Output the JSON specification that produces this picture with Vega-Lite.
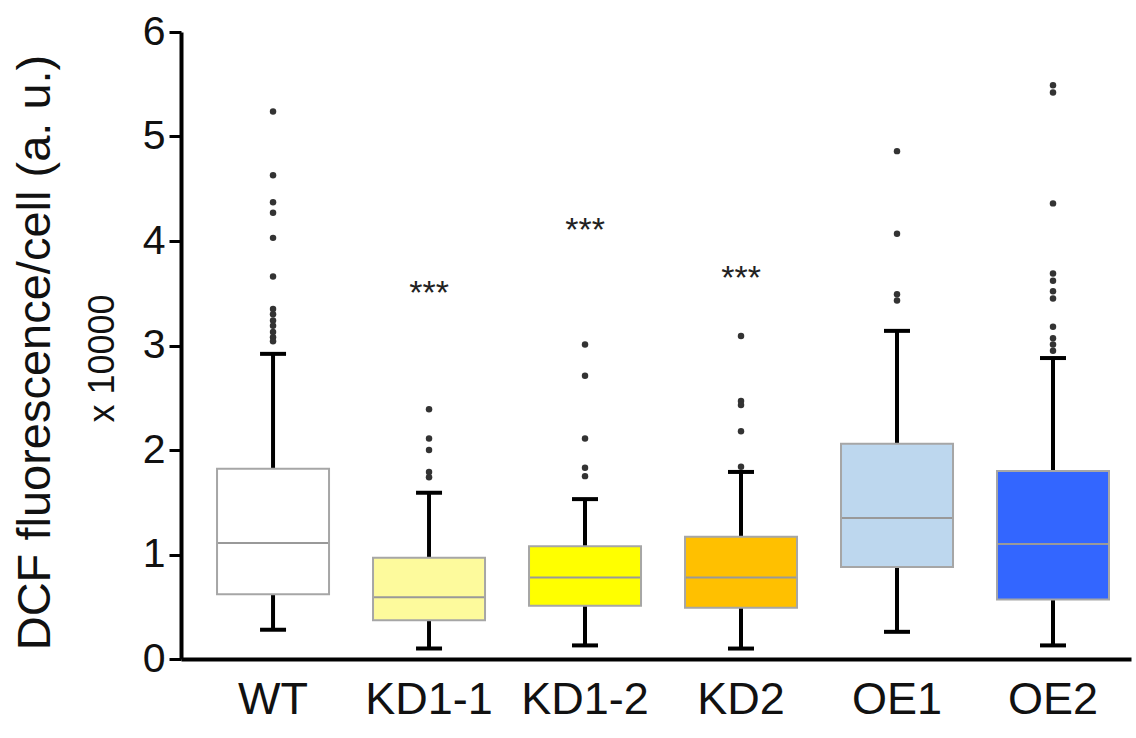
{
  "$schema": "https://vega.github.io/schema/vega-lite/v6.json",
  "autosize": {"type": "none"},
  "padding": {"left": 181, "top": 32, "right": 5, "bottom": 79},
  "width": 950,
  "height": 627,
  "background": "white",
  "config": {
    "view": {"stroke": null},
    "font": "Liberation Sans",
    "axis": {"grid": false, "labelFont": "Liberation Sans", "titleFont": "Liberation Sans", "labelColor": "#111", "titleColor": "#111", "titleFontWeight": "normal"}
  },
  "datasets": {
    "stats": [
      {"group": "WT", "lower": 0.28, "q1": 0.62, "median": 1.11, "q3": 1.82, "upper": 2.92},
      {"group": "KD1-1", "lower": 0.10, "q1": 0.37, "median": 0.59, "q3": 0.97, "upper": 1.59},
      {"group": "KD1-2", "lower": 0.13, "q1": 0.51, "median": 0.78, "q3": 1.08, "upper": 1.53},
      {"group": "KD2", "lower": 0.10, "q1": 0.49, "median": 0.78, "q3": 1.17, "upper": 1.79},
      {"group": "OE1", "lower": 0.26, "q1": 0.88, "median": 1.35, "q3": 2.06, "upper": 3.14},
      {"group": "OE2", "lower": 0.13, "q1": 0.57, "median": 1.10, "q3": 1.80, "upper": 2.88}
    ],
    "outliers": [
      {"group": "WT", "value": 5.24}, {"group": "WT", "value": 4.63}, {"group": "WT", "value": 4.37},
      {"group": "WT", "value": 4.27}, {"group": "WT", "value": 4.03}, {"group": "WT", "value": 3.66},
      {"group": "WT", "value": 3.35}, {"group": "WT", "value": 3.30}, {"group": "WT", "value": 3.24},
      {"group": "WT", "value": 3.19}, {"group": "WT", "value": 3.13}, {"group": "WT", "value": 3.08},
      {"group": "WT", "value": 3.04},
      {"group": "KD1-1", "value": 2.39}, {"group": "KD1-1", "value": 2.11}, {"group": "KD1-1", "value": 2.00},
      {"group": "KD1-1", "value": 1.79}, {"group": "KD1-1", "value": 1.74},
      {"group": "KD1-2", "value": 3.01}, {"group": "KD1-2", "value": 2.71}, {"group": "KD1-2", "value": 2.11},
      {"group": "KD1-2", "value": 1.83}, {"group": "KD1-2", "value": 1.75},
      {"group": "KD2", "value": 3.09}, {"group": "KD2", "value": 2.47}, {"group": "KD2", "value": 2.43},
      {"group": "KD2", "value": 2.18}, {"group": "KD2", "value": 1.84},
      {"group": "OE1", "value": 4.86}, {"group": "OE1", "value": 4.07}, {"group": "OE1", "value": 3.49},
      {"group": "OE1", "value": 3.43},
      {"group": "OE2", "value": 5.49}, {"group": "OE2", "value": 5.42}, {"group": "OE2", "value": 4.36},
      {"group": "OE2", "value": 3.69}, {"group": "OE2", "value": 3.62}, {"group": "OE2", "value": 3.52},
      {"group": "OE2", "value": 3.45}, {"group": "OE2", "value": 3.18}, {"group": "OE2", "value": 3.07},
      {"group": "OE2", "value": 3.01}, {"group": "OE2", "value": 2.95}
    ],
    "sig": [
      {"group": "KD1-1", "y": 3.55, "label": "***"},
      {"group": "KD1-2", "y": 4.15, "label": "***"},
      {"group": "KD2", "y": 3.69, "label": "***"}
    ]
  },
  "encoding": {
    "x": {
      "field": "group", "type": "nominal", "sort": ["WT", "KD1-1", "KD1-2", "KD2", "OE1", "OE2"],
      "scale": {"paddingInner": 0, "paddingOuter": 0.045, "align": 1},
      "axis": {"title": null, "labelAngle": 0, "labelFontSize": 45, "ticks": false, "domainColor": "#000", "domainWidth": 4, "labelPadding": 18}
    }
  },
  "layer": [
    {
      "layer": [
        {
          "data": {"name": "stats"},
          "mark": {"type": "rule", "color": "#000", "strokeWidth": 4},
          "encoding": {
            "y": {"field": "lower", "type": "quantitative", "scale": {"domain": [0, 6], "nice": false},
              "axis": {"values": [0, 1, 2, 3, 4, 5, 6], "format": "d", "labelFontSize": 41, "tickSize": 12, "tickWidth": 3, "tickColor": "#000", "domainColor": "#000", "domainWidth": 4, "labelPadding": 4,
                "title": "DCF fluorescence/cell (a. u.)", "titleFontSize": 47, "titleX": -122, "titleY": 320}},
            "y2": {"field": "q1"}
          }
        },
        {
          "data": {"name": "stats"},
          "mark": {"type": "rule", "color": "#000", "strokeWidth": 4},
          "encoding": {"y": {"field": "q3", "type": "quantitative"}, "y2": {"field": "upper"}}
        },
        {
          "data": {"name": "stats"},
          "mark": {"type": "bar", "size": 112, "stroke": "#a6a6a6", "strokeWidth": 2},
          "encoding": {
            "y": {"field": "q1", "type": "quantitative"}, "y2": {"field": "q3"},
            "fill": {"field": "group", "type": "nominal", "legend": null,
              "scale": {"domain": ["WT", "KD1-1", "KD1-2", "KD2", "OE1", "OE2"], "range": ["#ffffff", "#fdfa9c", "#ffff00", "#ffc000", "#bdd7ee", "#3366ff"]}}
          }
        },
        {
          "data": {"name": "stats"},
          "mark": {"type": "tick", "size": 110, "thickness": 2, "color": "#999999", "opacity": 1},
          "encoding": {"y": {"field": "median", "type": "quantitative"}}
        },
        {
          "data": {"name": "stats"},
          "mark": {"type": "tick", "size": 26, "thickness": 4, "color": "#000", "opacity": 1},
          "encoding": {"y": {"field": "lower", "type": "quantitative"}}
        },
        {
          "data": {"name": "stats"},
          "mark": {"type": "tick", "size": 26, "thickness": 4, "color": "#000", "opacity": 1},
          "encoding": {"y": {"field": "upper", "type": "quantitative"}}
        },
        {
          "data": {"name": "outliers"},
          "mark": {"type": "circle", "size": 42, "color": "#333", "opacity": 1},
          "encoding": {"y": {"field": "value", "type": "quantitative"}}
        }
      ]
    },
    {
      "data": {"name": "sig"},
      "mark": {"type": "text", "fontSize": 34, "color": "#222", "baseline": "middle", "dy": 6},
      "encoding": {
        "y": {"field": "y", "type": "quantitative", "scale": {"domain": [0, 6], "nice": false},
          "axis": {"orient": "left", "labels": false, "ticks": false, "domain": false, "title": "x 10000", "titleFontSize": 36, "titleX": -60, "titleY": 326}},
        "text": {"field": "label"}
      }
    }
  ],
  "resolve": {"scale": {"y": "independent"}, "axis": {"y": "independent"}}
}
